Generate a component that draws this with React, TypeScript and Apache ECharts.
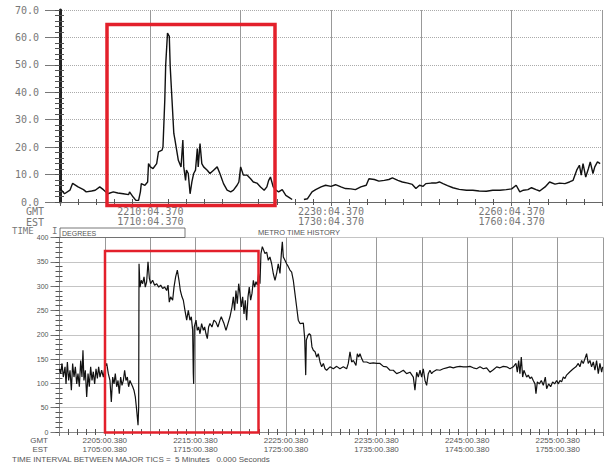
import React, { useEffect, useRef } from "react";
import * as echarts from "echarts";

// Upper panel: minutes after 22:00:04.370 GMT, value
const topSeries: (number | string)[][] = [
  [0.0, 4.9], [0.5, 3.0], [1.1, 4.3], [1.4, 6.8], [2.0, 5.5], [2.6, 4.5], [2.9, 3.7], [3.5, 4.0], [3.9, 4.3], [4.4, 5.5],
  [4.8, 4.5], [5.3, 3.0], [5.9, 3.7], [6.4, 3.3], [7.0, 3.0], [7.6, 2.7], [7.7, 3.7], [8.1, 1.8], [8.4, 0.6], [8.7, 0.6],
  [8.9, 3.7], [9.0, 6.7], [9.4, 6.1], [9.7, 7.3], [9.8, 14.0], [10.0, 12.8], [10.3, 12.2], [10.7, 14.0], [10.9, 18.3], [11.3, 18.9],
  [11.4, 20.1], [11.6, 37.2], [11.7, 50.0], [11.9, 61.6], [12.1, 60.4], [12.2, 49.4], [12.4, 37.2], [12.6, 25.0], [12.7, 23.2], [13.1, 15.2],
  [13.4, 12.8], [13.6, 22.6], [13.7, 12.8], [13.9, 7.9], [14.0, 11.6], [14.2, 10.4], [14.4, 3.0], [14.6, 7.3], [14.8, 10.4], [15.0, 11.6],
  [15.2, 19.5], [15.3, 12.8], [15.5, 21.3], [15.7, 14.0], [15.9, 12.8], [16.3, 11.6], [16.6, 10.4], [17.0, 11.6], [17.4, 12.8], [17.7, 10.4],
  [18.1, 6.7], [18.5, 4.3], [18.9, 3.7], [19.2, 4.3], [19.6, 6.1], [19.8, 7.3], [20.0, 12.8], [20.3, 9.8], [20.7, 9.8], [21.1, 8.5],
  [21.4, 7.3], [21.8, 6.9], [22.2, 5.5], [22.6, 4.3], [22.9, 5.5], [23.1, 7.9], [23.3, 9.1], [23.6, 5.5], [23.9, 4.3], [24.2, 3.7],
  [24.6, 4.5], [25.0, 2.4], [25.3, 1.8], [25.7, 0.9], [26.3, "-"], [27.0, 0.9], [27.4, 1.2], [27.9, 3.7], [28.3, 4.5], [28.9, 5.5],
  [29.4, 6.1], [30.0, 5.7], [30.5, 6.3], [31.1, 5.5], [31.6, 4.9], [32.2, 4.8], [32.7, 4.5], [33.3, 5.5], [33.9, 6.1], [34.2, 8.5],
  [34.8, 8.2], [35.3, 7.6], [35.9, 7.9], [36.4, 8.2], [36.8, 8.8], [37.4, 7.9], [37.9, 7.3], [38.5, 6.9], [39.0, 6.4], [39.4, 4.9],
  [39.8, 6.1], [40.2, 5.7], [40.5, 6.7], [41.1, 6.9], [41.6, 6.9], [42.0, 7.3], [42.4, 6.7], [42.9, 6.0], [43.5, 5.2], [44.2, 4.6],
  [45.0, 4.3], [45.7, 4.3], [46.4, 4.0], [47.2, 3.9], [47.9, 4.3], [48.7, 4.3], [49.4, 4.5], [50.0, 4.8], [50.5, 6.1], [50.9, 3.7],
  [51.3, 4.3], [51.8, 4.5], [52.2, 5.2], [52.7, 4.5], [53.1, 4.0], [53.7, 5.5], [54.2, 7.3], [54.8, 6.5], [55.3, 6.9], [55.9, 6.7],
  [56.4, 7.3], [56.8, 7.9], [57.2, 11.6], [57.5, 13.4], [57.7, 9.8], [57.9, 14.0], [58.2, 9.1], [58.5, 12.2], [58.7, 14.6], [59.0, 10.4],
  [59.2, 12.8], [59.5, 14.6], [59.8, 14.0],
];

// Lower panel: minutes after 22:00:00.380 GMT, degrees
const bottomSeries: number[][] = [
  [0.0, 130], [0.13, 120], [0.28, 141], [0.42, 113], [0.61, 134], [0.72, 99], [0.87, 144], [1.01, 106], [1.16, 127], [1.31, 86],
  [1.45, 141], [1.6, 113], [1.75, 134], [1.9, 99], [2.04, 120], [2.19, 93], [2.34, 147], [2.48, 113], [2.59, 168], [2.7, 106],
  [2.85, 127], [3.0, 72], [3.15, 120], [3.29, 93], [3.44, 134], [3.59, 106], [3.73, 124], [3.88, 99], [4.03, 130], [4.18, 110],
  [4.32, 134], [4.47, 113], [4.65, 127], [4.84, 113], [5.02, 134], [5.21, 141], [5.39, 120], [5.57, 106], [5.72, 62], [5.87, 113],
  [6.02, 99], [6.16, 120], [6.31, 93], [6.46, 106], [6.6, 79], [6.75, 113], [6.9, 96], [7.05, 106], [7.19, 127], [7.34, 106],
  [7.49, 113], [7.63, 93], [7.78, 106], [7.93, 99], [8.08, 93], [8.22, 86], [8.37, 72], [8.52, 45], [8.67, 14], [8.74, 51],
  [8.78, 346], [8.89, 298], [9.03, 312], [9.18, 305], [9.33, 319], [9.47, 298], [9.62, 309], [9.77, 350], [9.92, 316], [10.06, 305],
  [10.28, 312], [10.5, 302], [10.73, 305], [10.95, 298], [11.17, 302], [11.39, 295], [11.61, 298], [11.83, 291], [11.98, 302], [12.12, 267],
  [12.27, 278], [12.49, 271], [12.64, 298], [12.82, 319], [13.01, 333], [13.19, 312], [13.34, 291], [13.52, 278], [13.67, 271], [13.85, 250],
  [14.04, 230], [14.22, 250], [14.4, 230], [14.55, 237], [14.7, 209], [14.77, 120], [14.81, 99], [14.88, 216], [15.07, 230], [15.21, 209],
  [15.36, 216], [15.51, 202], [15.69, 223], [15.88, 209], [16.02, 216], [16.17, 202], [16.32, 192], [16.46, 216], [16.61, 223], [16.83, 216],
  [17.05, 230], [17.27, 226], [17.49, 216], [17.72, 230], [17.86, 237], [18.01, 230], [18.16, 223], [18.38, 209], [18.6, 223], [18.82, 237],
  [19.04, 257], [19.19, 278], [19.33, 250], [19.48, 291], [19.63, 264], [19.78, 305], [19.92, 285], [20.07, 257], [20.22, 278], [20.37, 243],
  [20.51, 271], [20.66, 230], [20.81, 278], [20.95, 298], [21.1, 271], [21.25, 285], [21.4, 312], [21.54, 298], [21.69, 309], [21.84, 302],
  [21.98, 326], [22.13, 305], [22.24, 367], [22.39, 381], [22.54, 374], [22.68, 367], [22.87, 370], [23.05, 353], [23.23, 360], [23.42, 346],
  [23.6, 326], [23.79, 312], [23.97, 326], [24.15, 346], [24.34, 326], [24.52, 374], [24.6, 391], [24.71, 360], [24.89, 353], [25.07, 346],
  [25.26, 340], [25.44, 333], [25.63, 329], [25.81, 312], [25.99, 285], [26.18, 257], [26.36, 230], [26.55, 223], [26.92, 224], [27.07, 192],
  [27.18, 117], [27.25, 189], [27.43, 199], [27.58, 202], [27.73, 199], [27.87, 175], [28.02, 168], [28.21, 165], [28.39, 154], [28.57, 161],
  [28.76, 144], [28.94, 134], [29.13, 141], [29.31, 130], [29.49, 127], [29.86, 134], [30.23, 130], [30.6, 135], [30.96, 130], [31.33, 134],
  [31.7, 130], [31.88, 141], [32.07, 165], [32.25, 144], [32.44, 147], [32.73, 137], [32.88, 161], [33.03, 154], [33.17, 161], [33.36, 151],
  [33.54, 144], [33.91, 144], [34.28, 141], [34.64, 142], [35.01, 141], [35.38, 141], [35.75, 135], [36.12, 134], [36.48, 127], [36.85, 127],
  [37.22, 120], [37.59, 123], [37.96, 127], [38.32, 120], [38.69, 123], [39.06, 113], [39.24, 86], [39.43, 123], [39.61, 113], [39.8, 127],
  [39.98, 113], [40.16, 130], [40.35, 106], [40.53, 96], [40.71, 120], [40.9, 127], [41.08, 120], [41.27, 124], [41.63, 128], [42.0, 127],
  [42.37, 130], [42.74, 132], [43.11, 134], [43.47, 132], [43.84, 134], [44.21, 135], [44.58, 134], [44.95, 134], [45.31, 135], [45.68, 132],
  [46.05, 130], [46.42, 134], [46.79, 130], [47.15, 132], [47.52, 123], [47.89, 128], [48.26, 134], [48.63, 132], [48.99, 135], [49.36, 134],
  [49.73, 130], [50.1, 134], [50.39, 141], [50.54, 123], [50.69, 147], [50.83, 120], [50.98, 154], [51.13, 113], [51.27, 127], [51.42, 120],
  [51.57, 113], [51.75, 117], [51.94, 110], [52.12, 113], [52.3, 106], [52.49, 99], [52.6, 79], [52.75, 103], [52.97, 99], [53.19, 106],
  [53.41, 96], [53.63, 113], [53.78, 89], [54.0, 99], [54.22, 93], [54.44, 103], [54.66, 99], [54.88, 106], [55.06, 99], [55.25, 106],
  [55.43, 103], [55.62, 113], [55.8, 110], [55.98, 117], [56.35, 124], [56.72, 130], [57.01, 134], [57.27, 141], [57.45, 134], [57.64, 147],
  [57.82, 141], [58.01, 151], [58.19, 161], [58.37, 141], [58.56, 147], [58.74, 134], [58.93, 144], [59.11, 127], [59.29, 147], [59.48, 120],
  [59.66, 141], [59.85, 123], [59.96, 134],
];

const topTickValues = [10, 30, 50];
const topGmtLabels = ["2210:04.370", "2230:04.370", "2260:04.370"];
const topEstLabels = ["1710:04.370", "1730:04.370", "1760:04.370"];

const bottomTickValues = [5, 15, 25, 35, 45, 55];
const bottomGmtLabels = ["2205:00.380", "2215:00.380", "2225:00.380", "2235:00.380", "2245:00.380", "2255:00.380"];
const bottomEstLabels = ["1705:00.380", "1715:00.380", "1725:00.380", "1735:00.380", "1745:00.380", "1755:00.380"];

const MONO = "DejaVu Sans Mono";
const SANS = "Liberation Sans";
const RED = "#e3202b";

function minorAxis(gridIndex: number, position: string, min: number, max: number, interval: number, len: number, line: any) {
  return {
    type: "value",
    gridIndex,
    position,
    min,
    max,
    interval,
    axisLine: line ? { show: true, lineStyle: line } : { show: false },
    axisTick: { show: false, inside: true },
    minorTick: { show: true, splitNumber: 5, length: len, lineStyle: { color: "#555", width: 1 } },
    axisLabel: { show: false },
    splitLine: { show: false },
  };
}

export default function App() {
  const ref = useRef<HTMLDivElement>(null);
  useEffect(() => {
    const chart = echarts.init(ref.current!, null, { renderer: "svg" });
    const option: any = {
      animation: false,
      backgroundColor: "#fff",
      grid: [
        { left: 60, right: 5, top: 10, height: 192 },
        { left: 59.5, right: 4, top: 237.5, height: 194.5 },
      ],
      xAxis: [
        {
          type: "value", gridIndex: 0, position: "bottom", min: 0, max: 60, interval: 10,
          axisLine: { show: true, lineStyle: { color: "#666", width: 1 } },
          axisTick: { show: true, length: 4, lineStyle: { color: "#666" } },
          axisLabel: {
            margin: 4, fontFamily: MONO, fontSize: 10, color: "#777", lineHeight: 10.5,
            formatter: (v: number) => {
              const i = topTickValues.indexOf(v);
              return i < 0 ? "" : topGmtLabels[i] + "\n" + topEstLabels[i];
            },
          },
          splitLine: { show: true, lineStyle: { color: "#999", width: 1 } },
        },
        minorAxis(0, "bottom", 0, 60, 10, 3, null),
        minorAxis(0, "top", 0, 60, 10, 3, null),
        {
          type: "value", gridIndex: 1, position: "bottom", min: 0, max: 60, interval: 5,
          axisLine: { show: true, lineStyle: { color: "#888", width: 1 } },
          axisTick: { show: true, length: 4, lineStyle: { color: "#777" } },
          axisLabel: {
            margin: 4, fontFamily: SANS, fontSize: 8, color: "#555", lineHeight: 9,
            formatter: (v: number) => {
              const i = bottomTickValues.indexOf(v);
              return i < 0 ? "" : bottomGmtLabels[i] + "\n" + bottomEstLabels[i];
            },
          },
          splitLine: { show: true, lineStyle: { color: "#999", width: 1 } },
        },
        minorAxis(1, "bottom", 0, 60, 5, 3, null),
        minorAxis(1, "top", 0, 60, 5, 3, { color: "#888", width: 1 }),
      ],
      yAxis: [
        {
          type: "value", gridIndex: 0, position: "left", min: 0, max: 70, interval: 10,
          axisLine: { show: true, lineStyle: { color: "#666", width: 1 } },
          axisTick: { show: true, length: 15, lineStyle: { color: "#777" } },
          axisLabel: {
            margin: 21, fontFamily: MONO, fontSize: 10, color: "#777",
            showMinLabel: true, showMaxLabel: true, hideOverlap: false,
            formatter: (v: number) => v.toFixed(1),
          },
          splitLine: { show: true, lineStyle: { color: "#aaa", type: "dotted", width: 1 } },
        },
        minorAxis(0, "left", 0, 70, 10, 4, null),
        {
          ...minorAxis(0, "right", 0, 70, 10, 5, { color: "#222", width: 3 }),
          axisTick: { show: true, inside: true, length: 5, lineStyle: { color: "#555" } },
        },
        {
          type: "value", gridIndex: 1, position: "left", min: 0, max: 400, interval: 50,
          axisLine: { show: true, lineStyle: { color: "#777", width: 1 } },
          axisTick: { show: true, length: 9, lineStyle: { color: "#777" } },
          axisLabel: {
            margin: 11, fontFamily: SANS, fontSize: 7, color: "#555",
            showMinLabel: true, showMaxLabel: true, hideOverlap: false,
          },
          splitLine: { show: true, lineStyle: { color: "#c4c4c4", width: 1 } },
        },
        minorAxis(1, "left", 0, 400, 50, 3, null),
        {
          ...minorAxis(1, "right", 0, 400, 50, 4, { color: "#888", width: 1 }),
          axisTick: { show: true, inside: true, length: 4, lineStyle: { color: "#555" } },
        },
      ],
      series: [
        {
          type: "line", xAxisIndex: 0, yAxisIndex: 0, data: topSeries, showSymbol: false,
          connectNulls: false, lineStyle: { color: "#111", width: 1.4 }, z: 5,
        },
        {
          type: "line", xAxisIndex: 3, yAxisIndex: 3, data: bottomSeries, showSymbol: false,
          lineStyle: { color: "#111", width: 1.2 }, z: 5,
        },
      ],
      graphic: [
        { type: "rect", z: 100, shape: { x: 107, y: 24.5, width: 168, height: 181 }, style: { fill: "none", stroke: RED, lineWidth: 3.5 } },
        { type: "rect", z: 100, shape: { x: 105, y: 251, width: 153.5, height: 181.5 }, style: { fill: "none", stroke: RED, lineWidth: 2.5 } },
        { type: "text", z: 100, x: 44, y: 211.5, style: { text: "GMT", fill: "#777", fontFamily: MONO, fontSize: 10, textAlign: "right", textVerticalAlign: "middle" } },
        { type: "text", z: 100, x: 44, y: 222, style: { text: "EST", fill: "#777", fontFamily: MONO, fontSize: 10, textAlign: "right", textVerticalAlign: "middle" } },
        { type: "text", z: 100, x: 12, y: 231, style: { text: "TIME", fill: "#777", fontFamily: MONO, fontSize: 9, textVerticalAlign: "middle" } },
        { type: "text", z: 100, x: 52, y: 231, style: { text: "I", fill: "#777", fontFamily: MONO, fontSize: 9, textVerticalAlign: "middle" } },
        { type: "rect", z: 101, shape: { x: 60, y: 228, width: 125, height: 9.5 }, style: { fill: "#fff", stroke: "#555", lineWidth: 0.8 } },
        { type: "text", z: 102, x: 62, y: 233, style: { text: "DEGREES", fill: "#555", fontFamily: SANS, fontSize: 7, textVerticalAlign: "middle" } },
        { type: "text", z: 100, x: 258, y: 232, style: { text: "METRO TIME HISTORY", fill: "#555", fontFamily: SANS, fontSize: 7.5, textVerticalAlign: "middle" } },
        { type: "text", z: 100, x: 48, y: 440.5, style: { text: "GMT", fill: "#555", fontFamily: SANS, fontSize: 8, textAlign: "right", textVerticalAlign: "middle" } },
        { type: "text", z: 100, x: 48, y: 449.5, style: { text: "EST", fill: "#555", fontFamily: SANS, fontSize: 8, textAlign: "right", textVerticalAlign: "middle" } },
        { type: "text", z: 100, x: 12, y: 459.5, style: { text: "TIME INTERVAL BETWEEN MAJOR TICS =  5 Minutes   0.000 Seconds", fill: "#555", fontFamily: SANS, fontSize: 8, textVerticalAlign: "middle" } },
      ],
    };
    chart.setOption(option);
    return () => chart.dispose();
  }, []);
  return <div ref={ref} style={{ position: "absolute", left: 0, top: 0, width: 607, height: 464, background: "#fff" }} />;
}
